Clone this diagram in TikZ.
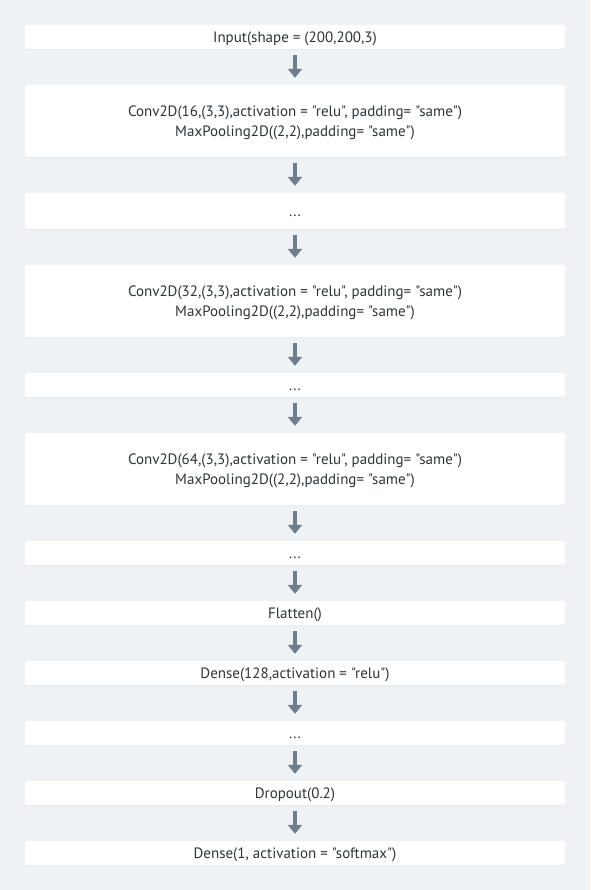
\documentclass[tikz,border=0pt]{standalone}
\usepackage{fontspec}
\setmainfont{PT Sans}[Ligatures=TeXOff]
\usetikzlibrary{arrows.meta,shadows}

\definecolor{pagebg}{HTML}{EFF2F5}
\definecolor{flowarrow}{HTML}{6F7E8E}
\definecolor{layertext}{HTML}{2F3439}

\tikzset{
    layer/.style={fill=white, rounded corners=2pt, minimum width=540pt,
        align=center, inner sep=0pt, text=layertext,
        font=\fontsize{15}{20}\selectfont, text height=11pt, text depth=0pt,
        drop shadow={opacity=0.06, shadow xshift=0pt, shadow yshift=-1pt}},
    twoline/.style={text height=31pt},
    flow/.style={draw=flowarrow, line width=3.6pt, shorten <=6pt, shorten >=7pt,
        -{Triangle[width=14pt,length=9pt]}}
}

\begin{document}
\begin{tikzpicture}[x=1pt,y=-1pt]
    % background
    \fill[pagebg] (0,0) rectangle (590,890);
    \useasboundingbox (0,0) rectangle (590,890);
    % layers
    \node[layer, minimum height=24pt] (L1) at (295,37) {Input(shape = (200,200,3)};
    \node[layer, twoline, minimum height=72pt] (L2) at (295,121) {Conv2D(16,(3,3),activation = "relu", padding= "same")\\MaxPooling2D((2,2),padding= "same")};
    \node[layer, minimum height=36pt] (L3) at (295,211) {...};
    \node[layer, twoline, minimum height=72pt] (L4) at (295,301) {Conv2D(32,(3,3),activation = "relu", padding= "same")\\MaxPooling2D((2,2),padding= "same")};
    \node[layer, minimum height=24pt] (L5) at (295,385) {...};
    \node[layer, twoline, minimum height=72pt] (L6) at (295,469) {Conv2D(64,(3,3),activation = "relu", padding= "same")\\MaxPooling2D((2,2),padding= "same")};
    \node[layer, minimum height=24pt] (L7) at (295,553) {...};
    \node[layer, minimum height=24pt] (L8) at (295,613) {Flatten()};
    \node[layer, minimum height=24pt] (L9) at (295,673) {Dense(128,activation = "relu")};
    \node[layer, minimum height=24pt] (L10) at (295,733) {...};
    \node[layer, minimum height=24pt] (L11) at (295,793) {Dropout(0.2)};
    \node[layer, minimum height=24pt] (L12) at (295,853) {Dense(1, activation = "softmax")};
    % arrows
    \foreach \i [count=\j from 2] in {1,...,11}
        \draw[flow] (L\i.south) -- (L\j.north);
\end{tikzpicture}
\end{document}
